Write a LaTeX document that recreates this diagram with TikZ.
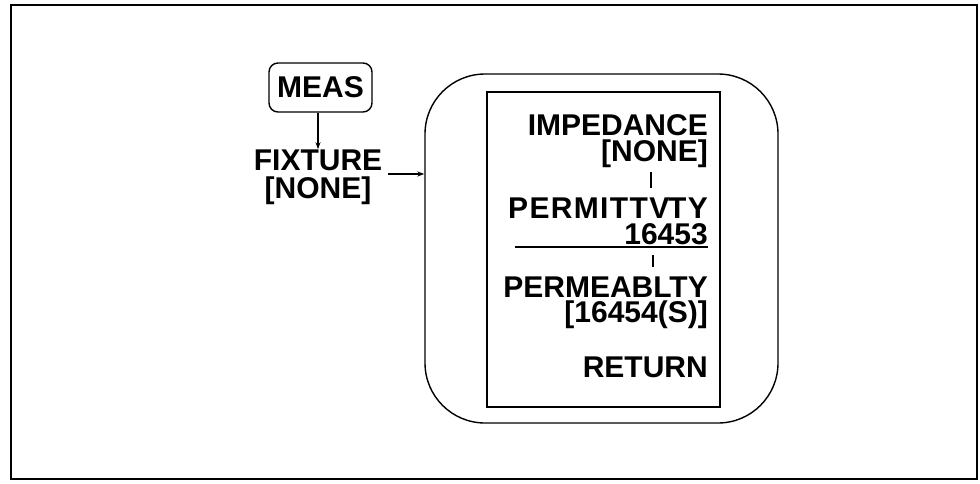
\documentclass[tikz,border=0pt]{standalone}
\usepackage{fontspec}
\setmainfont{Liberation Sans}
\usetikzlibrary{arrows.meta}
\begin{document}
\begin{tikzpicture}[x=1pt,y=-1pt,
  lbl/.style={inner sep=0pt, font=\fontsize{30}{25}\selectfont\bfseries},
  menuitem/.style={lbl, anchor=base east},
  leftitem/.style={lbl, anchor=base},
  conn/.style={line width=1.2pt},
  arr/.style={conn, -{Stealth[length=7pt,width=5pt]}},
  box/.style={draw, line width=1.4pt}]
\useasboundingbox (0,0) rectangle (980,483);
\draw[line width=2.5pt] (11,5) rectangle (977,479);
% left side
\node[box, rounded corners=9pt, minimum width=103pt, minimum height=49pt, lbl] (meas) at (320.5,87.5) {MEAS};
\node[leftitem] (fix1) at (318,170) {FIXTURE};
\node[leftitem] (fix2) at (318,198) {[NONE]};
% rounded box and menu
\node[box, rounded corners=60pt, minimum width=353pt, minimum height=349pt] (rbox) at (601.5,248.5) {};
\node[box, minimum width=233pt, minimum height=315pt] (menu) at (603.5,249.5) {};
\node[menuitem] (imp1) at (708,135) {IMPEDANCE};
\node[menuitem] (imp2) at (708,161) {[NONE]};
\node[menuitem] (per1) at (708,218) {\addfontfeature{LetterSpace=4.5}PERMITTV\kern-1.2ptTY};
\node[menuitem] (per2) at (708,244) {16453};
\node[menuitem] (prm1) at (708,297) {PERMEABLTY};
\node[menuitem] (prm2) at (708,322) {[16454(S)]};
\node[menuitem] (ret) at (708,377) {RETURN};
% connectors
\draw[arr] (meas.south -| fix1.north) -- (fix1.north);
\coordinate (fa) at (388,174);
\draw[arr] (fa) -- (fa -| rbox.west);
\coordinate (t1a) at (651,172);
\coordinate (t1b) at (651,188);
\draw[conn] (t1a) -- (t1b);
\coordinate (t2a) at (653,255);
\coordinate (t2b) at (653,267);
\draw[conn] (t2a) -- (t2b);
\coordinate (ula) at (515,247);
\draw[conn] (ula) -- (ula -| per2.east);
\end{tikzpicture}
\end{document}
